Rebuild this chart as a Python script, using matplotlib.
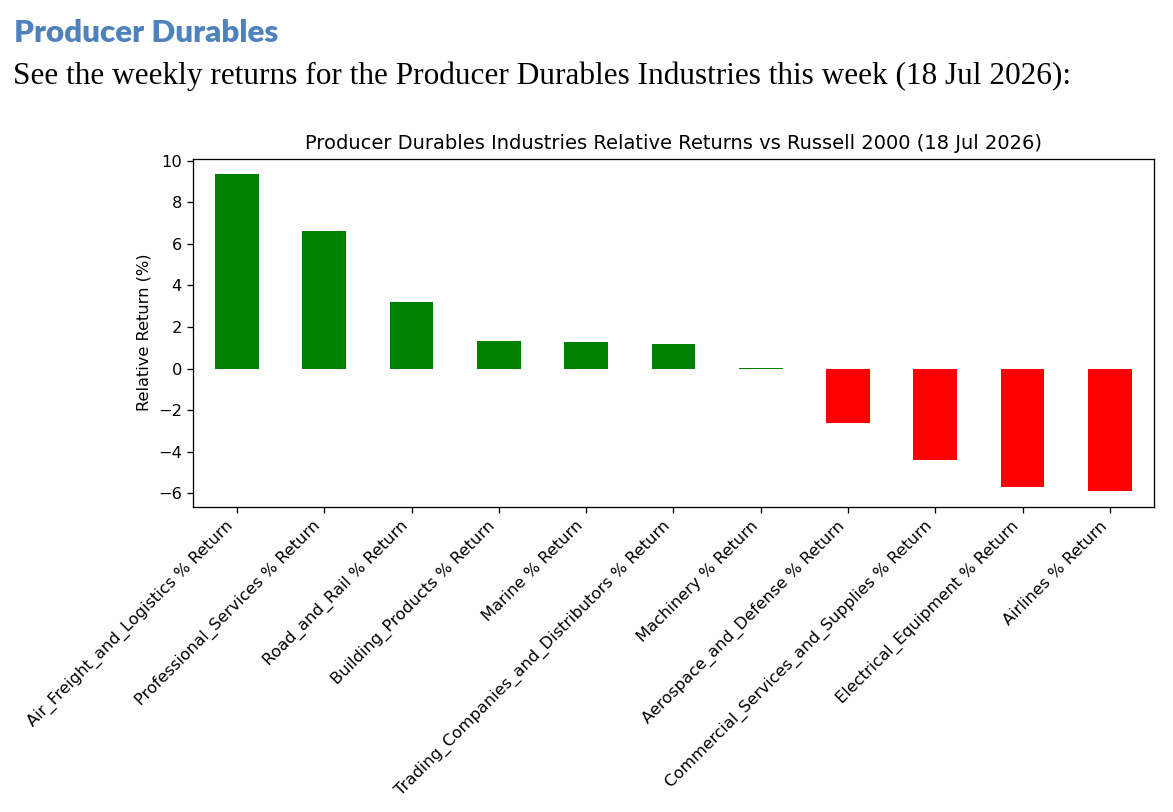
import matplotlib
matplotlib.use("Agg")
import matplotlib.pyplot as plt
import numpy as np

# industries and their relative returns vs Russell 2000 (%)
industries = [
    "Air_Freight_and_Logistics % Return",
    "Professional_Services % Return",
    "Road_and_Rail % Return",
    "Building_Products % Return",
    "Marine % Return",
    "Trading_Companies_and_Distributors % Return",
    "Machinery % Return",
    "Aerospace_and_Defense % Return",
    "Commercial_Services_and_Supplies % Return",
    "Electrical_Equipment % Return",
    "Airlines % Return",
]
returns = [9.34, 6.61, 3.19, 1.31, 1.27, 1.20, 0.03, -2.62, -4.42, -5.70, -5.89]

heading = "Producer Durables"
intro = "See the weekly returns for the Producer Durables Industries this week (18 Jul 2026):"
chart_title = "Producer Durables Industries Relative Returns vs Russell 2000 (18 Jul 2026)"

DPI = 117
W, H = 1173, 812
fig = plt.figure(figsize=(W / DPI, H / DPI), dpi=DPI)
ax = fig.add_axes([193.3 / W, 1 - 506.8 / H, (1153.5 - 193.3) / W, (506.8 - 158.5) / H])

x = np.arange(len(industries))
colors = ["green" if v >= 0 else "red" for v in returns]
ax.bar(x, returns, width=0.5, color=colors)
ax.set_xlim(-0.5, len(industries) - 0.5)
ax.set_xticks(x)
ax.set_xticklabels(industries, rotation=45, ha="right", fontsize=10)
ax.set_ylabel("Relative Return (%)", fontsize=10)
ax.set_title(chart_title, fontsize=12)

# the document text above the chart
fig.canvas.draw()
r = fig.canvas.get_renderer()

def fit(t, width_px):
    # scale font so the text spans the same width as in the page
    w = t.get_window_extent(r).width
    t.set_fontsize(t.get_fontsize() * width_px / w)

h = fig.text(14 / W, 1 - 42 / H, heading, fontsize=18, color="#4F81BD",
             fontweight="heavy", family="Lato", va="baseline")
fit(h, 264)
s = fig.text(13 / W, 1 - 84 / H, intro, fontsize=16, color="black",
             family="Liberation Serif", va="baseline")
fit(s, 1057)

fig.savefig("out.png", dpi=DPI)
